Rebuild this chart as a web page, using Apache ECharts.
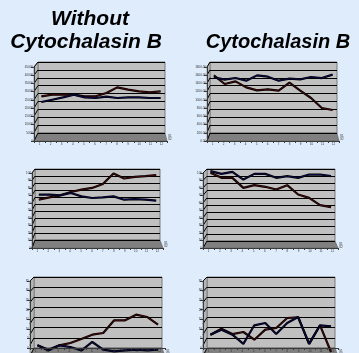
<!DOCTYPE html>
<html>
<head>
<meta charset="utf-8">
<script src="https://cdn.jsdelivr.net/npm/echarts@6/dist/echarts.min.js"></script>
<style>
  html, body { margin: 0; padding: 0; background: #deecfc; }
  #chart { width: 359px; height: 353px; }
</style>
</head>
<body>
<div id="chart"></div>
<script>
// ---- data ----
const categories = ['1', '2', '3', '4', '5', '6', '7', '8', '9', '10', '11', '12'];
const headingLeft = ['Without', 'Cytochalasin B'];
const headingRight = 'Cytochalasin B';
const seriesNames = ['S1', 'S2'];

const noCytoTopTicks = ['0', '5000', '10000', '15000', '20000', '25000', '30000', '35000', '40000', '45000'];
const noCytoTopA = [25250, 26250, 26250, 26250, 25250, 25250, 27300, 30800, 29400, 28350, 27700, 28350];
const noCytoTopB = [21700, 23150, 24600, 26250, 24600, 24200, 25050, 24200, 24600, 24600, 24200, 24200];

const cytoTopTicks = ['0.00', '200.00', '400.00', '600.00', '800.00', '1000.00', '1200.00', '1400.00', '1600.00', '1800.00'];
const cytoTopA = [1530, 1316, 1382, 1232, 1158, 1184, 1150, 1348, 1150, 968, 720, 670];
const cytoTopB = [1482, 1424, 1464, 1398, 1530, 1498, 1398, 1448, 1432, 1490, 1464, 1548];

const noCytoMidTicks = ['0', '10', '20', '30', '40', '50', '60', '70', '80', '90', '100'];
const noCytoMidA = [60.7, 63.9, 66.7, 71.3, 74.5, 76.8, 82.3, 96.6, 89.7, 92.0, 92.9, 94.3];
const noCytoMidB = [67.6, 67.6, 66.7, 69.9, 65.3, 63.0, 63.9, 65.3, 60.7, 61.6, 60.7, 59.3];

const cytoMidTicks = ['0', '10', '20', '30', '40', '50', '60', '70', '80', '90', '100'];
const cytoMidA = [97.5, 90.7, 90.7, 77.1, 80.7, 78.5, 74.8, 80.7, 68.0, 63.5, 53.5, 50.8];
const cytoMidB = [99.8, 96.1, 98.9, 88.4, 96.1, 96.1, 90.7, 93.0, 90.7, 95.2, 95.2, 93.0];

const noCytoLowTicks = ['0', '5', '10', '15', '20', '25', '30', '35'];
const noCytoLowA = [3.2, 1.1, 3.2, 4.3, 6.2, 8.3, 9.1, 15.2, 15.2, 17.9, 16.8, 13.1];
const noCytoLowB = [3.2, 0.7, 3.2, 2.4, 0.7, 4.8, 1.1, 0.3, 0.8, 1.1, 0.8, 1.1];

const cytoLowTicks = ['0', '5', '10', '15', '20', '25', '30', '35'];
const cytoLowA = [8.3, 11.2, 8.6, 9.6, 5.9, 10.7, 11.5, 16.3, 16.6, 3.9, 12.8, 0];
const cytoLowB = [8.3, 10.7, 8.3, 3.9, 12.8, 13.9, 8.6, 13.9, 16.8, 3.9, 12.8, 12.3];

// ---- layout: back wall and front edge of each 3-D box [left, top, right, bottom] ----
const panels = [
  { wall: [38, 62, 165, 133], front: [34, 67, 167, 141], ticks: noCytoTopTicks, lines: [noCytoTopA, noCytoTopB] },
  { wall: [210, 62, 337, 133], front: [207, 67, 339, 141], ticks: cytoTopTicks, lines: [cytoTopA, cytoTopB] },
  { wall: [35, 169, 160, 240], front: [32, 173, 163, 248], ticks: noCytoMidTicks, lines: [noCytoMidA, noCytoMidB] },
  { wall: [207, 169, 335, 241], front: [203, 173, 338, 248], ticks: cytoMidTicks, lines: [cytoMidA, cytoMidB] },
  { wall: [34, 277, 162, 348], front: [30, 281, 165, 356], ticks: noCytoLowTicks, lines: [noCytoLowA, noCytoLowB] },
  { wall: [207, 277, 335, 348], front: [203, 281, 338, 356], ticks: cytoLowTicks, lines: [cytoLowA, cytoLowB] }
];

const ribbonColors = ['#4e0a0a', '#0a0a52'];
const WALL = '#c0c0c0';
const SIDE = '#b4b4b4';
const FLOOR = '#808080';

const grid = [], xAxis = [], yAxis = [], series = [], graphic = [];

panels.forEach(function (p) {
  const [wl, wt, wr, wb] = p.wall;
  const [fl, ft, fr, fb] = p.front;
  const tickVals = p.ticks.map(parseFloat);
  const min = tickVals[0], max = tickVals[tickVals.length - 1];
  const step = tickVals[1] - tickVals[0];
  const n = tickVals.length - 1;
  const g = grid.length;

  // back wall with gridlines
  grid.push({ left: wl, top: wt, width: wr - wl, height: wb - wt, show: true,
    backgroundColor: WALL, borderColor: '#7a7a7a', borderWidth: 1, z: 0 });
  xAxis.push({ gridIndex: g, type: 'category', data: categories, show: false });
  yAxis.push({ gridIndex: g, type: 'value', min: min, max: max, interval: step, z: 1,
    axisLine: { show: false }, axisTick: { show: false }, axisLabel: { show: false },
    splitLine: { show: true, lineStyle: { color: '#000', width: 1 } } });

  // plane the ribbons sit in, halfway between wall and front edge
  const sl = (wl + fl) / 2, st = (wt + ft) / 2, sr = (wr + fr) / 2, sb = (wb + fb) / 2;
  grid.push({ left: sl, top: st, width: sr - sl, height: sb - st, z: 3 });
  xAxis.push({ gridIndex: g + 1, type: 'category', data: categories, boundaryGap: true, show: false });
  yAxis.push({ gridIndex: g + 1, type: 'value', min: min, max: max, show: false });

  // front edge carrying the axes
  grid.push({ left: fl, top: ft, width: fr - fl, height: fb - ft, z: 4 });
  xAxis.push({ gridIndex: g + 2, type: 'category', data: categories, z: 4,
    axisLine: { show: true, lineStyle: { color: '#3a3a3a', width: 1 } },
    axisTick: { show: true, length: 2, interval: 0, lineStyle: { color: '#3a3a3a' } },
    axisLabel: { show: true, interval: 0, fontSize: 3, margin: 2, color: '#333', fontFamily: 'Liberation Sans' },
    splitLine: { show: false } });
  yAxis.push({ gridIndex: g + 2, type: 'value', min: min, max: max, interval: step, z: 4,
    axisLine: { show: true, lineStyle: { color: '#3a3a3a', width: 1 } },
    axisTick: { show: true, length: 3, lineStyle: { color: '#3a3a3a' } },
    axisLabel: { show: true, fontSize: 3, margin: 1, color: '#333', fontFamily: 'Liberation Sans',
      formatter: function (v) { return p.ticks[Math.round((v - min) / step)]; } },
    splitLine: { show: false } });

  // ribbons: dark outline with a coloured core
  p.lines.forEach(function (vals, k) {
    series.push({ type: 'line', xAxisIndex: g + 1, yAxisIndex: g + 1, data: vals, symbol: 'none',
      clip: false, silent: true, z: 3, lineStyle: { color: '#000', width: 2.2 } });
    series.push({ type: 'line', name: seriesNames[k], xAxisIndex: g + 1, yAxisIndex: g + 1, data: vals,
      symbol: 'none', clip: false, silent: true, z: 3, lineStyle: { color: ribbonColors[k], width: 0.9 } });
  });

  // floor
  graphic.push({ type: 'polygon', silent: true, z: 1,
    shape: { points: [[wl, wb], [wr, wb], [fr, fb], [fl, fb]] },
    style: { fill: FLOOR, stroke: '#5a5a5a', lineWidth: 0.6 } });
  // side wall
  graphic.push({ type: 'polygon', silent: true, z: 1,
    shape: { points: [[wl, wt], [wl, wb], [fl, fb], [fl, ft]] },
    style: { fill: SIDE, stroke: '#6a6a6a', lineWidth: 0.6 } });
  // gridlines continued across the side wall
  for (let i = 0; i <= n; i++) {
    const yw = wb - i * (wb - wt) / n;
    const yf = fb - i * (fb - ft) / n;
    graphic.push({ type: 'line', silent: true, z: 1,
      shape: { x1: wl, y1: yw, x2: fl, y2: yf },
      style: { stroke: '#000', lineWidth: 1 } });
  }
  // series (depth) axis labels beside the floor
  seriesNames.forEach(function (name, k) {
    graphic.push({ type: 'text', silent: true, z: 5,
      style: { text: name, x: fr + 1, y: wb + 2 + k * 3, font: '3px "Liberation Sans"', fill: '#333' } });
  });
});

// column headings
const headFontLeft = 'italic bold 21px "Liberation Sans", Arial, sans-serif';
const headFontRight = 'italic bold 20px "Liberation Sans", Arial, sans-serif';
graphic.push({ type: 'text', silent: true, z: 10,
  style: { text: headingLeft[0], x: 90, y: 19, align: 'center', verticalAlign: 'middle', font: headFontLeft, fill: '#000' } });
graphic.push({ type: 'text', silent: true, z: 10,
  style: { text: headingLeft[1], x: 86, y: 42, align: 'center', verticalAlign: 'middle', font: headFontLeft, fill: '#000' } });
graphic.push({ type: 'text', silent: true, z: 10,
  style: { text: headingRight, x: 278, y: 42, align: 'center', verticalAlign: 'middle', font: headFontRight, fill: '#000' } });

const chart = echarts.init(document.getElementById('chart'), null, { renderer: 'canvas' });
chart.setOption({
  backgroundColor: '#deecfc',
  animation: false,
  grid: grid,
  xAxis: xAxis,
  yAxis: yAxis,
  series: series,
  graphic: graphic
});
</script>
</body>
</html>
